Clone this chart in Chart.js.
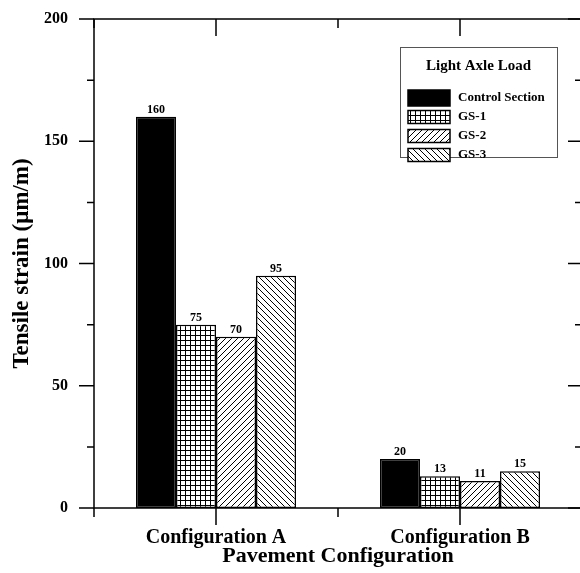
<!DOCTYPE html>
<html>
<head>
<meta charset="utf-8">
<script src="https://cdn.jsdelivr.net/npm/chart.js@4.4.0/dist/chart.umd.min.js"></script>
<style>
  html, body { margin: 0; padding: 0; background: #fff; overflow: hidden; }
  canvas { display: block; }
</style>
</head>
<body>
<canvas id="myChart" width="584" height="573"></canvas>
<script>
const categories = ["Configuration A", "Configuration B"];
const seriesNames = ["Control Section", "GS-1", "GS-2", "GS-3"];
const controlSection = [160, 20];
const gs1 = [75, 13];
const gs2 = [70, 11];
const gs3 = [95, 15];
const minorYTicks = [25, 75, 125, 175];

const serif = "'Liberation Serif', 'Times New Roman', serif";

// hatch fills
function makePattern(kind) {
    var c = document.createElement('canvas');
    var s = kind == 'grid' ? 5 : 6;
    c.width = s; c.height = s;
    var g = c.getContext('2d');
    g.fillStyle = '#fff';
    g.fillRect(0, 0, s, s);
    g.strokeStyle = '#000';
    g.lineWidth = 1;
    g.beginPath();
    if (kind == 'grid') {
        g.moveTo(0.5, 0); g.lineTo(0.5, s);
        g.moveTo(0, 0.5); g.lineTo(s, 0.5);
    } else if (kind == 'fwd') {
        g.moveTo(-1, s + 1); g.lineTo(s + 1, -1);
        g.moveTo(-1, 1); g.lineTo(1, -1);
        g.moveTo(s - 1, s + 1); g.lineTo(s + 1, s - 1);
    } else {
        g.moveTo(-1, -1); g.lineTo(s + 1, s + 1);
        g.moveTo(s - 1, -1); g.lineTo(s + 1, 1);
        g.moveTo(-1, s - 1); g.lineTo(1, s + 1);
    }
    g.stroke();
    return g.createPattern(c, 'repeat');
}

const fills = ['#000', makePattern('grid'), makePattern('fwd'), makePattern('back')];
const values = [controlSection, gs1, gs2, gs3];

const frame = {
    id: 'frame',
    afterDraw(chart) {
        const ctx = chart.ctx;
        const a = chart.chartArea;
        const x = chart.scales.x, y = chart.scales.y;
        ctx.save();
        ctx.strokeStyle = '#000';
        ctx.lineWidth = 1.5;
        ctx.strokeRect(a.left, a.top, a.right - a.left, a.bottom - a.top);
        ctx.beginPath();
        y.ticks.forEach(t => {
            const p = y.getPixelForValue(t.value);
            ctx.moveTo(a.left - 15, p); ctx.lineTo(a.left, p);
            ctx.moveTo(a.right - 14, p); ctx.lineTo(a.right, p);
        });
        minorYTicks.forEach(v => {
            const p = y.getPixelForValue(v);
            ctx.moveTo(a.left - 7, p); ctx.lineTo(a.left, p);
            ctx.moveTo(a.right - 7, p); ctx.lineTo(a.right, p);
        });
        const half = (x.getPixelForValue(1) - x.getPixelForValue(0)) / 2;
        categories.forEach((c, i) => {
            const p = x.getPixelForValue(i);
            ctx.moveTo(p, a.bottom); ctx.lineTo(p, a.bottom + 17);
            ctx.moveTo(p, a.top); ctx.lineTo(p, a.top + 17);
        });
        for (let i = 0; i <= categories.length; i++) {
            const p = x.getPixelForValue(0) - half + i * 2 * half;
            ctx.moveTo(p, a.bottom); ctx.lineTo(p, a.bottom + 9);
            ctx.moveTo(p, a.top); ctx.lineTo(p, a.top + 9);
        }
        ctx.stroke();

        // legend box
        const bx = a.right - 182, by = a.top + 28, bw = 157, bh = 110;
        ctx.strokeStyle = '#555';
        ctx.lineWidth = 1;
        ctx.strokeRect(bx + 0.5, by + 0.5, bw, bh);
        ctx.fillStyle = '#000';
        ctx.textAlign = 'center';
        ctx.textBaseline = 'middle';
        ctx.font = 'bold 15px ' + serif;
        ctx.fillText('Light Axle Load', bx + bw / 2, by + 19);
        ctx.font = 'bold 13px ' + serif;
        ctx.textAlign = 'left';
        chart.data.datasets.forEach((ds, i) => {
            const cy = by + 51 + i * 19;
            const h = i == 0 ? 16 : 13;
            ctx.fillStyle = ds.backgroundColor;
            ctx.fillRect(bx + 8, cy - h / 2, 42, h);
            ctx.strokeStyle = '#000';
            ctx.lineWidth = 1.5;
            ctx.strokeRect(bx + 8, cy - h / 2, 42, h);
            ctx.fillStyle = '#000';
            ctx.fillText(ds.label, bx + 58, cy);
        });
        ctx.restore();
    }
};

const barLabels = {
    id: 'barLabels',
    afterDatasetsDraw(chart) {
        const ctx = chart.ctx;
        ctx.save();
        ctx.font = 'bold 12px ' + serif;
        ctx.fillStyle = '#000';
        ctx.textAlign = 'center';
        ctx.textBaseline = 'middle';
        chart.data.datasets.forEach((ds, i) => {
            chart.getDatasetMeta(i).data.forEach((el, j) => {
                ctx.fillText(ds.data[j], el.x, el.y - 7);
            });
        });
        ctx.restore();
    }
};

var ctx = document.getElementById('myChart').getContext('2d');
var myChart = new Chart(ctx, {
    type: 'bar',
    data: {
        labels: categories,
        datasets: seriesNames.map((name, i) => ({
            label: name,
            data: values[i],
            backgroundColor: fills[i],
            borderColor: '#000',
            borderWidth: 1.5,
            borderSkipped: false,
            categoryPercentage: 0.656,
            barPercentage: 1.0
        }))
    },
    options: {
        responsive: false,
        animation: false,
        devicePixelRatio: 1,
        layout: { padding: { top: 19, right: 2, left: 0, bottom: 0 } },
        plugins: {
            legend: { display: false },
            tooltip: { enabled: false }
        },
        scales: {
            x: {
                offset: true,
                grid: { display: false },
                border: { display: false },
                ticks: { color: '#000', font: { family: serif, size: 20, weight: 'bold' }, padding: 10 },
                title: {
                    display: true,
                    text: 'Pavement Configuration',
                    color: '#000',
                    font: { family: serif, size: 22, weight: 'bold' },
                    padding: { top: 0, bottom: 3 }
                },
                afterFit: s => { s.height = 65; }
            },
            y: {
                min: 0,
                max: 200,
                grid: { display: false },
                border: { display: false },
                ticks: { stepSize: 50, color: '#000', font: { family: serif, size: 16, weight: 'bold' }, padding: 18 },
                title: {
                    display: true,
                    text: 'Tensile strain (μm/m)',
                    color: '#000',
                    font: { family: serif, size: 23, weight: 'bold' },
                    padding: { top: 8, bottom: 0 }
                },
                afterFit: s => { s.width = 94; s.paddingTop = 0; s.paddingBottom = 0; }
            }
        }
    },
    plugins: [frame, barLabels]
});
</script>
</body>
</html>
